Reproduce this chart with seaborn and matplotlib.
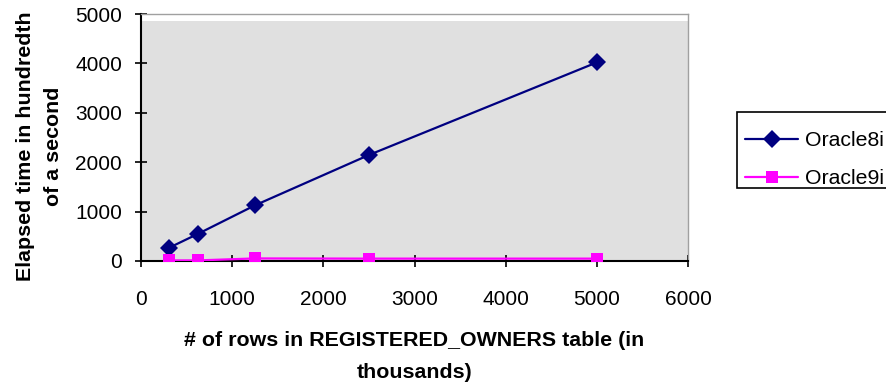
import numpy as np
import pandas as pd
import matplotlib
matplotlib.use("Agg")
import matplotlib.pyplot as plt
from matplotlib.patches import Rectangle
import seaborn as sns

# ---- data ----
rows_thousands = [312.5, 625, 1250, 2500, 5000]
oracle8i = [272, 550, 1127, 2146, 4020]
oracle9i = [12, 12, 52, 48, 48]
series_names = ["Oracle8i", "Oracle9i"]
x_ticks = [0, 1000, 2000, 3000, 4000, 5000, 6000]
y_ticks = [0, 1000, 2000, 3000, 4000, 5000]

df = pd.DataFrame({
    "rows": rows_thousands * 2,
    "time": oracle8i + oracle9i,
    "series": [series_names[0]] * len(rows_thousands) + [series_names[1]] * len(rows_thousands),
})

sns.set_style("white")
plt.rcParams["font.family"] = ["Liberation Sans", "DejaVu Sans"]
plt.rcParams["text.color"] = "black"
plt.rcParams["axes.labelcolor"] = "black"
plt.rcParams["xtick.color"] = "black"
plt.rcParams["ytick.color"] = "black"

W, H = 886, 383
fig = plt.figure(figsize=(W / 100, H / 100), dpi=100)
ax = fig.add_axes([141 / W, 1 - 261 / H, (688 - 141) / W, (261 - 14) / H])
ax.set_facecolor("#e0e0e0")
ax.axhspan(4860, 5000, color="white", zorder=0, linewidth=0)

palette = {"Oracle8i": "#000080", "Oracle9i": "#ff00ff"}
markers = {"Oracle8i": "D", "Oracle9i": "s"}
sns.lineplot(data=df, x="rows", y="time", hue="series", style="series",
             palette=palette, markers=markers, dashes=False, markersize=9,
             markeredgewidth=0, linewidth=1.6, ax=ax, legend=True, zorder=3)

ax.set_xlim(0, 6000)
ax.set_ylim(0, 5000)
ax.set_xticks(x_ticks)
ax.set_yticks(y_ticks)
ax.set_xticklabels([str(t) for t in x_ticks])
ax.set_yticklabels([str(t) for t in y_ticks])
ax.tick_params(axis="both", which="major", bottom=True, left=True, top=False, right=False,
               direction="inout", length=9, width=1.2, color="black",
               labelsize=15, labelcolor="black")
ax.tick_params(axis="x", pad=16.5)
ax.tick_params(axis="y", pad=9)

for s in ["left", "bottom"]:
    ax.spines[s].set_color("black")
    ax.spines[s].set_linewidth(1.5)
for s in ["top", "right"]:
    ax.spines[s].set_color("#a0a0a0")
    ax.spines[s].set_linewidth(1.0)

ax.set_xlabel("# of rows in REGISTERED_OWNERS table (in\nthousands)",
              fontsize=15.4, fontweight="bold", linespacing=1.85, color="black")
ax.set_ylabel("Elapsed time in hundredth\nof a second",
              fontsize=15.4, fontweight="bold", linespacing=1.6, color="black")
ax.xaxis.set_label_coords(0.5, -0.283)
ax.yaxis.set_label_coords(-0.143, 0.466)

# legend frame (Excel-style box, partly cut at the right edge), drawn beneath the axes
fig.patches.append(Rectangle((737 / W, 1 - 188 / H), (W + 10 - 737) / W, (188 - 112) / H,
                             transform=fig.transFigure, facecolor="white",
                             edgecolor="black", linewidth=1.2, zorder=-1))

handles, labels = ax.get_legend_handles_labels()
leg = ax.legend(handles, labels, loc="upper left",
                bbox_to_anchor=(745 / W, 1 - 131 / H), bbox_transform=fig.transFigure,
                borderaxespad=0, frameon=False,
                fontsize=15.3, handlelength=2.5, handletextpad=0.3,
                labelspacing=0.9, borderpad=0.0)
for t in leg.get_texts():
    t.set_color("black")

fig.savefig("out.png", dpi=100)
